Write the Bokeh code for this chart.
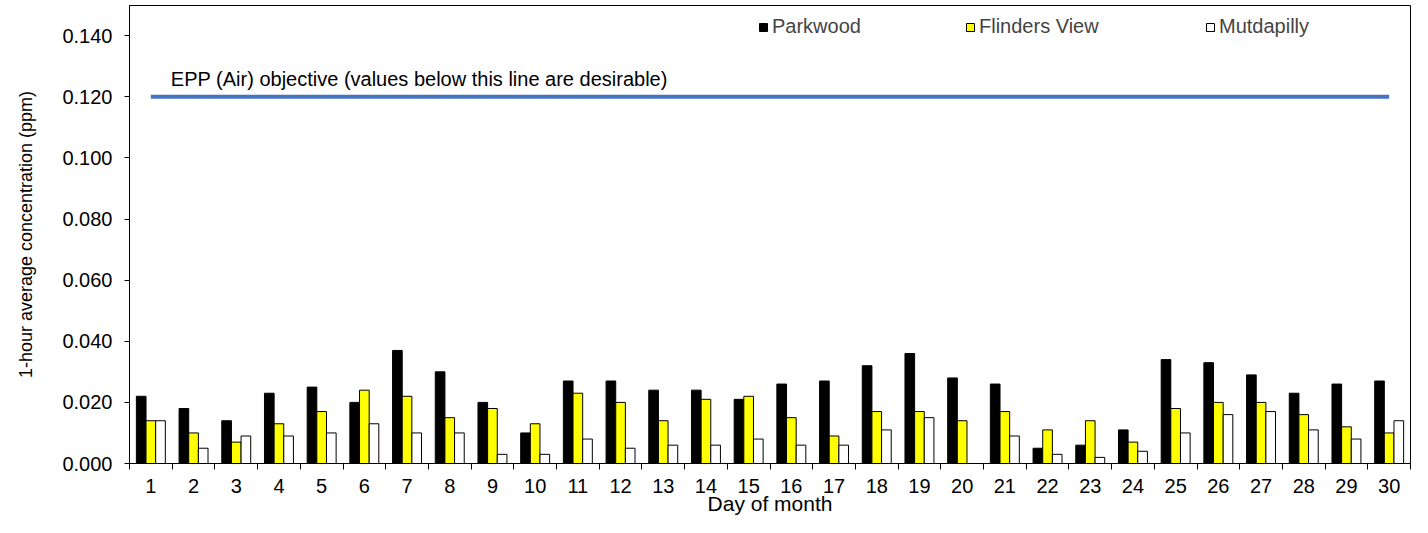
import math
from bokeh.plotting import figure
from bokeh.models import (ColumnDataSource, FixedTicker, NumeralTickFormatter, Range1d,
                          Legend, LegendItem, Label)
from bokeh.transform import dodge
from bokeh.embed import file_html
from bokeh.resources import INLINE

days = list(range(1, 31))
parkwood = [0.022, 0.018, 0.014, 0.023, 0.025, 0.020, 0.037, 0.030, 0.020, 0.010,
            0.027, 0.027, 0.024, 0.024, 0.021, 0.026, 0.027, 0.032, 0.036, 0.028,
            0.026, 0.005, 0.006, 0.011, 0.034, 0.033, 0.029, 0.023, 0.026, 0.027]
flinders_view = [0.014, 0.010, 0.007, 0.013, 0.017, 0.024, 0.022, 0.015, 0.018, 0.013,
                 0.023, 0.020, 0.014, 0.021, 0.022, 0.015, 0.009, 0.017, 0.017, 0.014,
                 0.017, 0.011, 0.014, 0.007, 0.018, 0.020, 0.020, 0.016, 0.012, 0.010]
mutdapilly = [0.014, 0.005, 0.009, 0.009, 0.010, 0.013, 0.010, 0.010, 0.003, 0.003,
              0.008, 0.005, 0.006, 0.006, 0.008, 0.006, 0.006, 0.011, 0.015, float("nan"),
              0.009, 0.003, 0.002, 0.004, 0.010, 0.016, 0.017, 0.011, 0.008, 0.014]
y_ticks = [0.000, 0.020, 0.040, 0.060, 0.080, 0.100, 0.120, 0.140]
epp_objective = 0.120
epp_text = "EPP (Air) objective (values below this line are desirable)"
x_title = "Day of month"
y_title = "1-hour average concentration (ppm)"
series_names = ["Parkwood", "Flinders View", "Mutdapilly"]
series_colors = ["#000000", "#FFFF00", "#FFFFFF"]

FONT = "Liberation Sans"

source = ColumnDataSource(dict(day=days, parkwood=parkwood,
                               flinders_view=flinders_view, mutdapilly=mutdapilly))

p = figure(width=1412, height=517, output_backend="svg", toolbar_location=None,
           x_range=Range1d(0.5, 30.5), y_range=Range1d(0, 0.1499),
           min_border_left=129, min_border_right=2, min_border_top=5, min_border_bottom=54)
p.xgrid.visible = False
p.ygrid.visible = False
p.outline_line_color = "#000000"
p.outline_line_width = 1
p.background_fill_color = "white"
p.border_fill_color = "white"

bw = 0.226
offsets = [-bw, 0.0, bw]
fields = ["parkwood", "flinders_view", "mutdapilly"]
renderers = []
for f, off, col in zip(fields, offsets, series_colors):
    r = p.vbar(x=dodge("day", off), top=f, width=bw, bottom=0, source=source,
               fill_color=col, line_color="#000000", line_width=1)
    renderers.append(r)

# EPP objective line
p.line(x=[days[0], days[-1]], y=[epp_objective, epp_objective],
       line_color="#4472C4", line_width=4)
p.add_layout(Label(x=days[0], y=epp_objective, x_offset=20, y_offset=18,
                   text=epp_text, text_font=FONT, text_font_size="20px",
                   text_color="#000000", text_baseline="alphabetic"))

# Axes
xa = p.xaxis[0]
xa.ticker = FixedTicker(ticks=days, minor_ticks=[d - 0.5 for d in days] + [days[-1] + 0.5])
xa.major_tick_out = 0
xa.major_tick_in = 0
xa.minor_tick_out = 6
xa.minor_tick_in = 0
xa.major_label_standoff = 9
xa.major_label_text_font = FONT
xa.major_label_text_font_size = "20px"
xa.axis_line_color = "#000000"
xa.major_tick_line_color = "#000000"
xa.minor_tick_line_color = "#000000"
xa.major_label_text_color = "#000000"
xa.axis_label = x_title
xa.axis_label_standoff = -4
xa.axis_label_text_font = FONT
xa.axis_label_text_font_size = "21px"
xa.axis_label_text_font_style = "normal"
xa.axis_label_text_color = "#000000"

ya = p.yaxis[0]
ya.ticker = FixedTicker(ticks=y_ticks)
ya.formatter = NumeralTickFormatter(format="0.000")
ya.major_tick_out = 5
ya.major_tick_in = 0
ya.minor_tick_out = 0
ya.minor_tick_in = 0
ya.major_label_standoff = 12
ya.axis_label = y_title
ya.axis_label_standoff = 23
ya.axis_label_text_font = FONT
ya.axis_label_text_font_size = "18px"
ya.axis_label_text_font_style = "normal"
ya.major_label_text_font = FONT
ya.major_label_text_font_size = "20px"
ya.axis_line_color = "#000000"
ya.major_tick_line_color = "#000000"
ya.major_label_text_color = "#000000"
ya.axis_label_text_color = "#000000"

# Legends (one per item, placed like the reference)
legend_x = [629, 836, 1076]
for name, r, lx in zip(series_names, renderers, legend_x):
    lg = Legend(items=[LegendItem(label=name, renderers=[r])],
                location=(lx, 425), padding=0, margin=0, spacing=0,
                glyph_width=10, glyph_height=10, label_standoff=4,
                label_text_font=FONT, label_text_font_size="20px",
                border_line_color=None, background_fill_alpha=0)
    p.add_layout(lg)

open("out.html", "w").write(file_html(p, INLINE))
